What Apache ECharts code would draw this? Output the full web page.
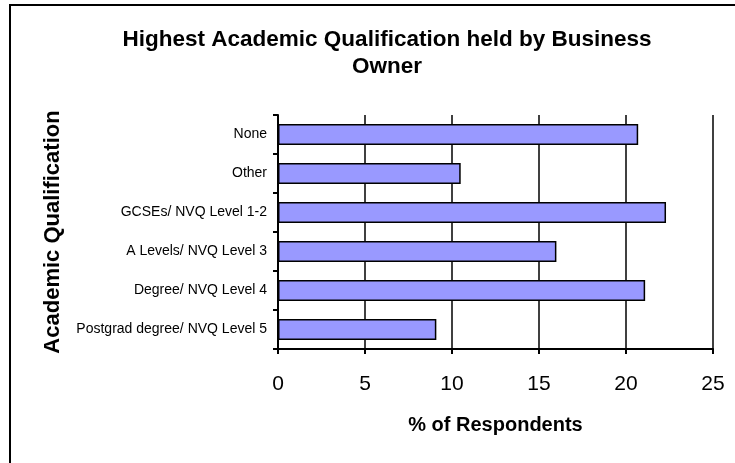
<!DOCTYPE html>
<html>
<head>
<meta charset="utf-8">
<title>Highest Academic Qualification held by Business Owner</title>
<script src="https://cdn.jsdelivr.net/npm/echarts@6/dist/echarts.min.js"></script>
<style>
  html, body { margin: 0; padding: 0; background: #fff; }
  #chart { width: 735px; height: 463px; }
</style>
</head>
<body>
<div id="chart"></div>
<script>
// top-to-bottom order, as in the picture
var qualifications = [
  'None',
  'Other',
  'GCSEs/ NVQ Level 1-2',
  'A Levels/ NVQ Level 3',
  'Degree/ NVQ Level 4',
  'Postgrad degree/ NVQ Level 5'
];
var respondentsPct = [20.7, 10.5, 22.3, 16.0, 21.1, 9.1];

var font = "'Liberation Sans', Arial, sans-serif";

var myChart = echarts.init(document.getElementById('chart'));
myChart.setOption({
  animation: false,
  backgroundColor: '#fff',
  title: {
    text: 'Highest Academic Qualification held by Business\nOwner',
    left: 382,
    top: 21,
    textAlign: 'center',
    textStyle: {
      fontFamily: font,
      fontSize: 22.5,
      fontWeight: 'bold',
      color: '#000',
      lineHeight: 27
    }
  },
  graphic: [{
    type: 'rect',
    shape: { x: 10, y: 5, width: 760, height: 500 },
    style: { fill: 'none', stroke: '#000', lineWidth: 2 },
    silent: true
  }],
  grid: {
    left: 278,
    right: 22,
    top: 115,
    bottom: 114
  },
  xAxis: {
    type: 'value',
    min: 0,
    max: 25,
    interval: 5,
    name: '% of Respondents',
    nameLocation: 'middle',
    nameGap: 66,
    nameTextStyle: {
      fontFamily: font,
      fontSize: 20,
      fontWeight: 'bold',
      color: '#000'
    },
    axisLine: { show: true, lineStyle: { color: '#000', width: 2 } },
    axisTick: { show: true, length: 5, lineStyle: { color: '#000', width: 2 } },
    axisLabel: {
      fontFamily: font,
      fontSize: 21,
      color: '#000',
      margin: 25
    },
    splitLine: { show: true, lineStyle: { color: '#000', width: 1.5 } }
  },
  yAxis: {
    type: 'category',
    inverse: true,
    data: qualifications,
    name: 'Academic Qualification',
    nameLocation: 'middle',
    nameGap: 214,
    nameTextStyle: {
      fontFamily: font,
      fontSize: 22,
      fontWeight: 'bold',
      color: '#000'
    },
    axisLine: { show: true, lineStyle: { color: '#000', width: 2 } },
    axisTick: { show: true, length: 5, lineStyle: { color: '#000', width: 2 } },
    axisLabel: {
      fontFamily: font,
      fontSize: 14,
      color: '#000',
      margin: 11
    },
    splitLine: { show: false }
  },
  series: [{
    name: '% of Respondents',
    type: 'bar',
    data: respondentsPct,
    barCategoryGap: '46%',
    itemStyle: {
      color: '#9999ff',
      borderColor: '#000',
      borderWidth: 1.5
    }
  }]
});
</script>
</body>
</html>
